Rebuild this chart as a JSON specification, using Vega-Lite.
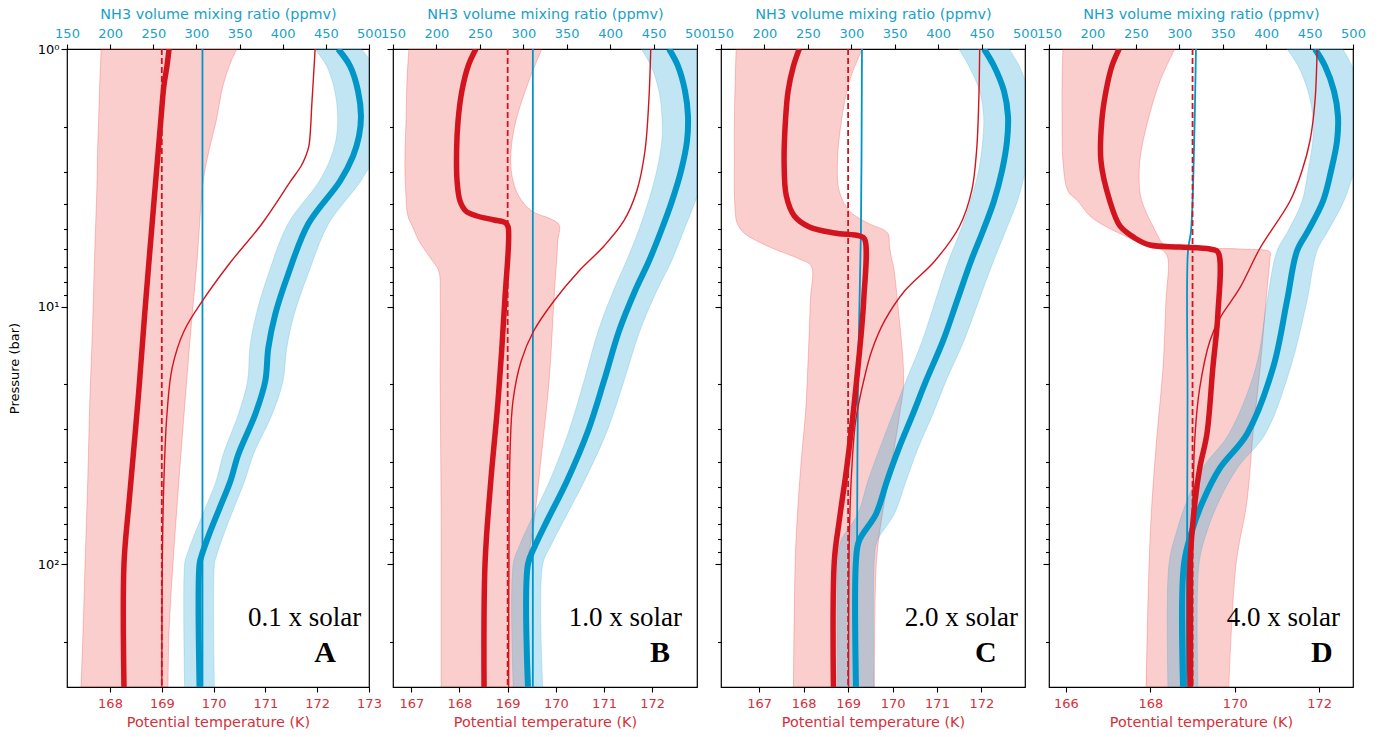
{
  "$schema": "https://vega.github.io/schema/vega-lite/v6.json",
  "background": "white",
  "padding": {"left": 7, "top": 5, "right": 5, "bottom": 5},
  "spacing": 24,
  "bounds": "flush",
  "config": {
    "view": {"stroke": "#000", "strokeWidth": 1.2},
    "axis": {"labelFont": "DejaVu Sans", "titleFont": "DejaVu Sans", "labelFontSize": 13, "titleFontSize": 14.4, "titleFontWeight": "normal", "tickColor": "#000", "tickWidth": 1.1, "domain": false, "grid": false, "labelFlush": false, "labelOverlap": false, "labelBound": false}
  },
  "datasets": {
    "tband": [
      {"panel": "A", "P": 1, "T": 167.83, "T2": 170.45}, {"panel": "A", "P": 1.113, "T": 167.82, "T2": 170.34}, {"panel": "A", "P": 1.392, "T": 167.80, "T2": 170.18}, {"panel": "A", "P": 1.904, "T": 167.78, "T2": 170.05}, {"panel": "A", "P": 2.489, "T": 167.76, "T2": 169.91}, {"panel": "A", "P": 3.254, "T": 167.75, "T2": 169.80}, {"panel": "A", "P": 6.654, "T": 167.70, "T2": 169.68}, {"panel": "A", "P": 12.44, "T": 167.66, "T2": 169.56}, {"panel": "A", "P": 23.26, "T": 167.61, "T2": 169.45}, {"panel": "A", "P": 47.53, "T": 167.57, "T2": 169.33}, {"panel": "A", "P": 97.18, "T": 167.52, "T2": 169.22}, {"panel": "A", "P": 181.7, "T": 167.48, "T2": 169.14}, {"panel": "A", "P": 300, "T": 167.44, "T2": 169.12},
      {"panel": "B", "P": 1, "T": 166.95, "T2": 169.71}, {"panel": "B", "P": 1.331, "T": 166.91, "T2": 169.44}, {"panel": "B", "P": 1.904, "T": 166.89, "T2": 169.17}, {"panel": "B", "P": 2.489, "T": 166.87, "T2": 169.07}, {"panel": "B", "P": 3.112, "T": 166.87, "T2": 169.09}, {"panel": "B", "P": 3.721, "T": 166.89, "T2": 169.23}, {"panel": "B", "P": 4.256, "T": 166.91, "T2": 169.50}, {"panel": "B", "P": 4.571, "T": 166.95, "T2": 169.90}, {"panel": "B", "P": 4.822, "T": 167.01, "T2": 170.07}, {"panel": "B", "P": 5.564, "T": 167.16, "T2": 170.04}, {"panel": "B", "P": 6.536, "T": 167.41, "T2": 170.02}, {"panel": "B", "P": 7.274, "T": 167.57, "T2": 170.00}, {"panel": "B", "P": 9.512, "T": 167.60, "T2": 169.96}, {"panel": "B", "P": 19.45, "T": 167.60, "T2": 169.86}, {"panel": "B", "P": 36.36, "T": 167.61, "T2": 169.71}, {"panel": "B", "P": 67.97, "T": 167.62, "T2": 169.55}, {"panel": "B", "P": 100, "T": 167.62, "T2": 169.42}, {"panel": "B", "P": 300, "T": 167.62, "T2": 169.38},
      {"panel": "C", "P": 1, "T": 166.48, "T2": 169.32}, {"panel": "C", "P": 1.331, "T": 166.46, "T2": 169.03}, {"panel": "C", "P": 1.904, "T": 166.44, "T2": 168.85}, {"panel": "C", "P": 2.722, "T": 166.44, "T2": 168.76}, {"panel": "C", "P": 3.558, "T": 166.44, "T2": 168.80}, {"panel": "C", "P": 4.256, "T": 166.46, "T2": 169.03}, {"panel": "C", "P": 4.737, "T": 166.50, "T2": 169.44}, {"panel": "C", "P": 5.18, "T": 166.66, "T2": 169.89}, {"panel": "C", "P": 5.819, "T": 167.18, "T2": 169.93}, {"panel": "C", "P": 6.536, "T": 167.90, "T2": 169.98}, {"panel": "C", "P": 6.957, "T": 168.17, "T2": 170.02}, {"panel": "C", "P": 9.512, "T": 168.15, "T2": 170.11}, {"panel": "C", "P": 19.45, "T": 168.08, "T2": 170.25}, {"panel": "C", "P": 26.12, "T": 168.04, "T2": 170.16}, {"panel": "C", "P": 38.71, "T": 167.95, "T2": 170.00}, {"panel": "C", "P": 63.85, "T": 167.86, "T2": 169.77}, {"panel": "C", "P": 97.18, "T": 167.81, "T2": 169.64}, {"panel": "C", "P": 300, "T": 167.77, "T2": 169.59},
      {"panel": "D", "P": 1, "T": 165.93, "T2": 168.58}, {"panel": "D", "P": 1.331, "T": 165.91, "T2": 168.23}, {"panel": "D", "P": 1.904, "T": 165.91, "T2": 167.94}, {"panel": "D", "P": 2.722, "T": 165.93, "T2": 167.75}, {"panel": "D", "P": 3.558, "T": 166.05, "T2": 167.75}, {"panel": "D", "P": 3.891, "T": 166.28, "T2": 167.80}, {"panel": "D", "P": 4.45, "T": 166.57, "T2": 167.94}, {"panel": "D", "P": 4.865, "T": 166.92, "T2": 168.06}, {"panel": "D", "P": 5.321, "T": 167.40, "T2": 168.18}, {"panel": "D", "P": 5.767, "T": 167.87, "T2": 168.34}, {"panel": "D", "P": 5.977, "T": 168.23, "T2": 170.12}, {"panel": "D", "P": 6.139, "T": 168.34, "T2": 170.83}, {"panel": "D", "P": 6.536, "T": 168.42, "T2": 170.83}, {"panel": "D", "P": 9.512, "T": 168.37, "T2": 170.74}, {"panel": "D", "P": 17.31, "T": 168.30, "T2": 170.60}, {"panel": "D", "P": 31.23, "T": 168.16, "T2": 170.43}, {"panel": "D", "P": 56.84, "T": 168.04, "T2": 170.29}, {"panel": "D", "P": 100, "T": 167.97, "T2": 170.03}, {"panel": "D", "P": 300, "T": 167.90, "T2": 169.86}
    ],
    "tline": [
      {"panel": "A", "s": "dash", "P": 1, "T": 169}, {"panel": "A", "s": "dash", "P": 300, "T": 169},
      {"panel": "A", "s": "thin", "P": 1, "T": 171.96}, {"panel": "A", "s": "thin", "P": 1.592, "T": 171.90}, {"panel": "A", "s": "thin", "P": 2.38, "T": 171.84}, {"panel": "A", "s": "thin", "P": 2.603, "T": 171.78}, {"panel": "A", "s": "thin", "P": 2.846, "T": 171.69}, {"panel": "A", "s": "thin", "P": 3.254, "T": 171.49}, {"panel": "A", "s": "thin", "P": 4.779, "T": 170.93}, {"panel": "A", "s": "thin", "P": 6.834, "T": 170.30}, {"panel": "A", "s": "thin", "P": 9.344, "T": 169.81}, {"panel": "A", "s": "thin", "P": 12.44, "T": 169.43}, {"panel": "A", "s": "thin", "P": 17.31, "T": 169.20}, {"panel": "A", "s": "thin", "P": 26.12, "T": 169.10}, {"panel": "A", "s": "thin", "P": 47.53, "T": 169.04}, {"panel": "A", "s": "thin", "P": 97.18, "T": 169.01}, {"panel": "A", "s": "thin", "P": 300, "T": 169.00},
      {"panel": "A", "s": "thick", "P": 1, "T": 169.14}, {"panel": "A", "s": "thick", "P": 1.164, "T": 169.10}, {"panel": "A", "s": "thick", "P": 1.392, "T": 169.04}, {"panel": "A", "s": "thick", "P": 1.904, "T": 168.98}, {"panel": "A", "s": "thick", "P": 3.891, "T": 168.85}, {"panel": "A", "s": "thick", "P": 9.512, "T": 168.69}, {"panel": "A", "s": "thick", "P": 23.26, "T": 168.54}, {"panel": "A", "s": "thick", "P": 56.84, "T": 168.37}, {"panel": "A", "s": "thick", "P": 100, "T": 168.27}, {"panel": "A", "s": "thick", "P": 300, "T": 168.27},
      {"panel": "B", "s": "dash", "P": 1, "T": 169}, {"panel": "B", "s": "dash", "P": 300, "T": 169},
      {"panel": "B", "s": "thin", "P": 1, "T": 171.97}, {"panel": "B", "s": "thin", "P": 1.592, "T": 171.93}, {"panel": "B", "s": "thin", "P": 2.489, "T": 171.85}, {"panel": "B", "s": "thin", "P": 3.558, "T": 171.68}, {"panel": "B", "s": "thin", "P": 4.653, "T": 171.41}, {"panel": "B", "s": "thin", "P": 5.819, "T": 171.00}, {"panel": "B", "s": "thin", "P": 7.274, "T": 170.48}, {"panel": "B", "s": "thin", "P": 9.512, "T": 169.96}, {"panel": "B", "s": "thin", "P": 12.44, "T": 169.54}, {"panel": "B", "s": "thin", "P": 16.26, "T": 169.28}, {"panel": "B", "s": "thin", "P": 23.26, "T": 169.11}, {"panel": "B", "s": "thin", "P": 36.36, "T": 169.05}, {"panel": "B", "s": "thin", "P": 67.97, "T": 169.03}, {"panel": "B", "s": "thin", "P": 300, "T": 169.02},
      {"panel": "B", "s": "thick", "P": 1, "T": 168.34}, {"panel": "B", "s": "thick", "P": 1.164, "T": 168.18}, {"panel": "B", "s": "thick", "P": 1.456, "T": 168.05}, {"panel": "B", "s": "thick", "P": 1.904, "T": 167.97}, {"panel": "B", "s": "thick", "P": 2.489, "T": 167.94}, {"panel": "B", "s": "thick", "P": 3.254, "T": 167.95}, {"panel": "B", "s": "thick", "P": 3.891, "T": 168.01}, {"panel": "B", "s": "thick", "P": 4.256, "T": 168.13}, {"panel": "B", "s": "thick", "P": 4.45, "T": 168.36}, {"panel": "B", "s": "thick", "P": 4.612, "T": 168.72}, {"panel": "B", "s": "thick", "P": 4.737, "T": 168.96}, {"panel": "B", "s": "thick", "P": 4.909, "T": 169.01}, {"panel": "B", "s": "thick", "P": 9.512, "T": 168.94}, {"panel": "B", "s": "thick", "P": 23.26, "T": 168.80}, {"panel": "B", "s": "thick", "P": 47.53, "T": 168.65}, {"panel": "B", "s": "thick", "P": 100, "T": 168.53}, {"panel": "B", "s": "thick", "P": 300, "T": 168.51},
      {"panel": "C", "s": "dash", "P": 1, "T": 169}, {"panel": "C", "s": "dash", "P": 300, "T": 169},
      {"panel": "C", "s": "thin", "P": 1, "T": 171.96}, {"panel": "C", "s": "thin", "P": 1.592, "T": 171.94}, {"panel": "C", "s": "thin", "P": 2.489, "T": 171.89}, {"panel": "C", "s": "thin", "P": 3.558, "T": 171.78}, {"panel": "C", "s": "thin", "P": 4.865, "T": 171.51}, {"panel": "C", "s": "thin", "P": 6.654, "T": 170.95}, {"panel": "C", "s": "thin", "P": 8.699, "T": 170.27}, {"panel": "C", "s": "thin", "P": 11.37, "T": 169.82}, {"panel": "C", "s": "thin", "P": 14.87, "T": 169.53}, {"panel": "C", "s": "thin", "P": 19.45, "T": 169.35}, {"panel": "C", "s": "thin", "P": 27.8, "T": 169.17}, {"panel": "C", "s": "thin", "P": 43.47, "T": 169.08}, {"panel": "C", "s": "thin", "P": 74.32, "T": 169.03}, {"panel": "C", "s": "thin", "P": 300, "T": 169.01},
      {"panel": "C", "s": "thick", "P": 1, "T": 167.90}, {"panel": "C", "s": "thick", "P": 1.164, "T": 167.77}, {"panel": "C", "s": "thick", "P": 1.456, "T": 167.65}, {"panel": "C", "s": "thick", "P": 1.904, "T": 167.59}, {"panel": "C", "s": "thick", "P": 2.722, "T": 167.56}, {"panel": "C", "s": "thick", "P": 3.721, "T": 167.61}, {"panel": "C", "s": "thick", "P": 4.45, "T": 167.79}, {"panel": "C", "s": "thick", "P": 4.909, "T": 168.13}, {"panel": "C", "s": "thick", "P": 5.18, "T": 168.69}, {"panel": "C", "s": "thick", "P": 5.321, "T": 169.26}, {"panel": "C", "s": "thick", "P": 5.466, "T": 169.37}, {"panel": "C", "s": "thick", "P": 9.512, "T": 169.35}, {"panel": "C", "s": "thick", "P": 19.45, "T": 169.19}, {"panel": "C", "s": "thick", "P": 40.83, "T": 168.98}, {"panel": "C", "s": "thick", "P": 67.97, "T": 168.80}, {"panel": "C", "s": "thick", "P": 97.18, "T": 168.69}, {"panel": "C", "s": "thick", "P": 300, "T": 168.67},
      {"panel": "D", "s": "dash", "P": 1, "T": 169}, {"panel": "D", "s": "dash", "P": 300, "T": 169},
      {"panel": "D", "s": "thin", "P": 1, "T": 171.95}, {"panel": "D", "s": "thin", "P": 1.592, "T": 171.90}, {"panel": "D", "s": "thin", "P": 2.276, "T": 171.78}, {"panel": "D", "s": "thin", "P": 2.976, "T": 171.59}, {"panel": "D", "s": "thin", "P": 3.891, "T": 171.31}, {"panel": "D", "s": "thin", "P": 5.924, "T": 170.60}, {"panel": "D", "s": "thin", "P": 8.469, "T": 170.12}, {"panel": "D", "s": "thin", "P": 11.07, "T": 169.65}, {"panel": "D", "s": "thin", "P": 13.6, "T": 169.41}, {"panel": "D", "s": "thin", "P": 20.7, "T": 169.17}, {"panel": "D", "s": "thin", "P": 31.23, "T": 169.06}, {"panel": "D", "s": "thin", "P": 56.84, "T": 169.01}, {"panel": "D", "s": "thin", "P": 300, "T": 169.00},
      {"panel": "D", "s": "thick", "P": 1, "T": 167.26}, {"panel": "D", "s": "thick", "P": 1.164, "T": 167.09}, {"panel": "D", "s": "thick", "P": 1.456, "T": 166.95}, {"panel": "D", "s": "thick", "P": 1.904, "T": 166.85}, {"panel": "D", "s": "thick", "P": 2.722, "T": 166.83}, {"panel": "D", "s": "thick", "P": 3.891, "T": 167.04}, {"panel": "D", "s": "thick", "P": 4.865, "T": 167.28}, {"panel": "D", "s": "thick", "P": 5.417, "T": 167.63}, {"panel": "D", "s": "thick", "P": 5.767, "T": 167.99}, {"panel": "D", "s": "thick", "P": 5.871, "T": 168.70}, {"panel": "D", "s": "thick", "P": 5.977, "T": 169.41}, {"panel": "D", "s": "thick", "P": 6.139, "T": 169.60}, {"panel": "D", "s": "thick", "P": 10.68, "T": 169.60}, {"panel": "D", "s": "thick", "P": 17.31, "T": 169.48}, {"panel": "D", "s": "thick", "P": 31.23, "T": 169.34}, {"panel": "D", "s": "thick", "P": 42.32, "T": 169.17}, {"panel": "D", "s": "thick", "P": 56.84, "T": 169.06}, {"panel": "D", "s": "thick", "P": 100, "T": 168.94}, {"panel": "D", "s": "thick", "P": 300, "T": 168.94}
    ],
    "nband": [
      {"panel": "A", "P": 1, "N": 437.2, "N2": 491.2}, {"panel": "A", "P": 1.164, "N": 451, "N2": 505}, {"panel": "A", "P": 1.456, "N": 460.3, "N2": 514.3}, {"panel": "A", "P": 1.82, "N": 463.7, "N2": 517.7}, {"panel": "A", "P": 2.177, "N": 462.4, "N2": 514.4}, {"panel": "A", "P": 2.603, "N": 456.5, "N2": 506.5}, {"panel": "A", "P": 3.254, "N": 442.5, "N2": 490.5}, {"panel": "A", "P": 4.779, "N": 406, "N2": 453}, {"panel": "A", "P": 7.472, "N": 383.4, "N2": 429.4}, {"panel": "A", "P": 10.68, "N": 369.4, "N2": 413.4}, {"panel": "A", "P": 14.48, "N": 361.9, "N2": 404.7}, {"panel": "A", "P": 19.45, "N": 359.3, "N2": 400.3}, {"panel": "A", "P": 26.12, "N": 348.7, "N2": 387.9}, {"panel": "A", "P": 37.35, "N": 331.2, "N2": 366.2}, {"panel": "A", "P": 47.53, "N": 322.9, "N2": 355.9}, {"panel": "A", "P": 59.44, "N": 311.4, "N2": 344.4}, {"panel": "A", "P": 77.71, "N": 297, "N2": 331}, {"panel": "A", "P": 92.93, "N": 288.6, "N2": 323.2}, {"panel": "A", "P": 100, "N": 286.3, "N2": 320.9}, {"panel": "A", "P": 300, "N": 286.3, "N2": 320.9},
      {"panel": "B", "P": 1, "N": 435.8, "N2": 499.8}, {"panel": "B", "P": 1.164, "N": 447.1, "N2": 509.1}, {"panel": "B", "P": 1.456, "N": 456.2, "N2": 516.2}, {"panel": "B", "P": 1.82, "N": 459.6, "N2": 519.6}, {"panel": "B", "P": 2.276, "N": 459.5, "N2": 517.5}, {"panel": "B", "P": 2.976, "N": 453.6, "N2": 509.6}, {"panel": "B", "P": 3.891, "N": 444.2, "N2": 498.2}, {"panel": "B", "P": 5.088, "N": 432.6, "N2": 484.6}, {"panel": "B", "P": 6.654, "N": 418.7, "N2": 470.7}, {"panel": "B", "P": 8.699, "N": 403.6, "N2": 453.6}, {"panel": "B", "P": 12.44, "N": 386.2, "N2": 434.2}, {"panel": "B", "P": 19.45, "N": 369.9, "N2": 415.9}, {"panel": "B", "P": 30.4, "N": 352.5, "N2": 396.5}, {"panel": "B", "P": 47.53, "N": 330.3, "N2": 370.3}, {"panel": "B", "P": 67.97, "N": 308.3, "N2": 346.3}, {"panel": "B", "P": 84.98, "N": 295.5, "N2": 331.5}, {"panel": "B", "P": 100, "N": 288.4, "N2": 322.4}, {"panel": "B", "P": 300, "N": 288.4, "N2": 322.4},
      {"panel": "C", "P": 1, "N": 423.8, "N2": 481.8}, {"panel": "C", "P": 1.164, "N": 435.3, "N2": 493.3}, {"panel": "C", "P": 1.456, "N": 447.8, "N2": 503.8}, {"panel": "C", "P": 1.82, "N": 452.4, "N2": 508.4}, {"panel": "C", "P": 2.276, "N": 451.3, "N2": 507.3}, {"panel": "C", "P": 2.976, "N": 446.5, "N2": 500.5}, {"panel": "C", "P": 3.891, "N": 437.3, "N2": 491.3}, {"panel": "C", "P": 5.088, "N": 425.6, "N2": 477.6}, {"panel": "C", "P": 6.654, "N": 411.8, "N2": 463.8}, {"panel": "C", "P": 9.512, "N": 396.7, "N2": 446.7}, {"panel": "C", "P": 13.6, "N": 381.6, "N2": 429.6}, {"panel": "C", "P": 19.45, "N": 363.0, "N2": 409.0}, {"panel": "C", "P": 26.12, "N": 348.0, "N2": 394.0}, {"panel": "C", "P": 35.4, "N": 332.9, "N2": 376.9}, {"panel": "C", "P": 47.53, "N": 319.1, "N2": 363.1}, {"panel": "C", "P": 63.85, "N": 307.5, "N2": 349.5}, {"panel": "C", "P": 81.27, "N": 287.9, "N2": 329.9}, {"panel": "C", "P": 97.18, "N": 284.4, "N2": 326.4}, {"panel": "C", "P": 300, "N": 284.4, "N2": 326.4},
      {"panel": "D", "P": 1, "N": 424.2, "N2": 488.2}, {"panel": "D", "P": 1.164, "N": 436.8, "N2": 498.8}, {"panel": "D", "P": 1.456, "N": 448.1, "N2": 508.1}, {"panel": "D", "P": 1.82, "N": 453.7, "N2": 511.7}, {"panel": "D", "P": 2.276, "N": 453.6, "N2": 509.6}, {"panel": "D", "P": 2.976, "N": 448.2, "N2": 501.2}, {"panel": "D", "P": 3.891, "N": 441.5, "N2": 489.5}, {"panel": "D", "P": 5.088, "N": 425.2, "N2": 471.2}, {"panel": "D", "P": 6.084, "N": 412.5, "N2": 458.5}, {"panel": "D", "P": 9.512, "N": 401.0, "N2": 447.0}, {"panel": "D", "P": 17.31, "N": 387.9, "N2": 427.9}, {"panel": "D", "P": 31.23, "N": 357.0, "N2": 399.0}, {"panel": "D", "P": 42.32, "N": 326.9, "N2": 366.9}, {"panel": "D", "P": 56.84, "N": 308.8, "N2": 345.8}, {"panel": "D", "P": 74.32, "N": 297.1, "N2": 332.1}, {"panel": "D", "P": 100, "N": 288.1, "N2": 322.7}, {"panel": "D", "P": 300, "N": 287.0, "N2": 321.6}
    ],
    "nline": [
      {"panel": "A", "s": "thin", "P": 1, "N": 307}, {"panel": "A", "s": "thin", "P": 300, "N": 307},
      {"panel": "A", "s": "thick", "P": 1, "N": 464.2}, {"panel": "A", "s": "thick", "P": 1.164, "N": 478.0}, {"panel": "A", "s": "thick", "P": 1.456, "N": 487.3}, {"panel": "A", "s": "thick", "P": 1.82, "N": 490.7}, {"panel": "A", "s": "thick", "P": 2.177, "N": 488.4}, {"panel": "A", "s": "thick", "P": 2.603, "N": 481.5}, {"panel": "A", "s": "thick", "P": 3.254, "N": 466.5}, {"panel": "A", "s": "thick", "P": 4.779, "N": 429.5}, {"panel": "A", "s": "thick", "P": 7.472, "N": 406.4}, {"panel": "A", "s": "thick", "P": 10.68, "N": 391.4}, {"panel": "A", "s": "thick", "P": 14.48, "N": 383.3}, {"panel": "A", "s": "thick", "P": 19.45, "N": 379.8}, {"panel": "A", "s": "thick", "P": 26.12, "N": 368.3}, {"panel": "A", "s": "thick", "P": 37.35, "N": 348.7}, {"panel": "A", "s": "thick", "P": 47.53, "N": 339.4}, {"panel": "A", "s": "thick", "P": 59.44, "N": 327.9}, {"panel": "A", "s": "thick", "P": 77.71, "N": 314.0}, {"panel": "A", "s": "thick", "P": 92.93, "N": 305.9}, {"panel": "A", "s": "thick", "P": 100, "N": 303.6}, {"panel": "A", "s": "thick", "P": 300, "N": 303.6},
      {"panel": "B", "s": "thin", "P": 1, "N": 311}, {"panel": "B", "s": "thin", "P": 300, "N": 311},
      {"panel": "B", "s": "thick", "P": 1, "N": 467.8}, {"panel": "B", "s": "thick", "P": 1.164, "N": 478.1}, {"panel": "B", "s": "thick", "P": 1.456, "N": 486.2}, {"panel": "B", "s": "thick", "P": 1.82, "N": 489.6}, {"panel": "B", "s": "thick", "P": 2.276, "N": 488.5}, {"panel": "B", "s": "thick", "P": 2.976, "N": 481.6}, {"panel": "B", "s": "thick", "P": 3.891, "N": 471.2}, {"panel": "B", "s": "thick", "P": 5.088, "N": 458.6}, {"panel": "B", "s": "thick", "P": 6.654, "N": 444.7}, {"panel": "B", "s": "thick", "P": 8.699, "N": 428.6}, {"panel": "B", "s": "thick", "P": 12.44, "N": 410.2}, {"panel": "B", "s": "thick", "P": 19.45, "N": 392.9}, {"panel": "B", "s": "thick", "P": 30.4, "N": 374.5}, {"panel": "B", "s": "thick", "P": 47.53, "N": 350.3}, {"panel": "B", "s": "thick", "P": 67.97, "N": 327.3}, {"panel": "B", "s": "thick", "P": 84.98, "N": 313.5}, {"panel": "B", "s": "thick", "P": 100, "N": 305.4}, {"panel": "B", "s": "thick", "P": 300, "N": 305.4},
      {"panel": "C", "s": "thin", "P": 1, "N": 312.3}, {"panel": "C", "s": "thin", "P": 5.088, "N": 311.1}, {"panel": "C", "s": "thin", "P": 19.45, "N": 307.7}, {"panel": "C", "s": "thin", "P": 97.18, "N": 306.6}, {"panel": "C", "s": "thin", "P": 300, "N": 305.4},
      {"panel": "C", "s": "thick", "P": 1, "N": 452.8}, {"panel": "C", "s": "thick", "P": 1.164, "N": 464.3}, {"panel": "C", "s": "thick", "P": 1.456, "N": 475.8}, {"panel": "C", "s": "thick", "P": 1.82, "N": 480.4}, {"panel": "C", "s": "thick", "P": 2.276, "N": 479.3}, {"panel": "C", "s": "thick", "P": 2.976, "N": 473.5}, {"panel": "C", "s": "thick", "P": 3.891, "N": 464.3}, {"panel": "C", "s": "thick", "P": 5.088, "N": 451.6}, {"panel": "C", "s": "thick", "P": 6.654, "N": 437.8}, {"panel": "C", "s": "thick", "P": 9.512, "N": 421.7}, {"panel": "C", "s": "thick", "P": 13.6, "N": 405.6}, {"panel": "C", "s": "thick", "P": 19.45, "N": 386.0}, {"panel": "C", "s": "thick", "P": 26.12, "N": 371.0}, {"panel": "C", "s": "thick", "P": 35.4, "N": 354.9}, {"panel": "C", "s": "thick", "P": 47.53, "N": 341.1}, {"panel": "C", "s": "thick", "P": 63.85, "N": 328.5}, {"panel": "C", "s": "thick", "P": 81.27, "N": 308.9}, {"panel": "C", "s": "thick", "P": 97.18, "N": 305.4}, {"panel": "C", "s": "thick", "P": 300, "N": 305.4},
      {"panel": "D", "s": "thin", "P": 1, "N": 319.2}, {"panel": "D", "s": "thin", "P": 2.489, "N": 316.9}, {"panel": "D", "s": "thin", "P": 5.088, "N": 313.5}, {"panel": "D", "s": "thin", "P": 6.084, "N": 310.0}, {"panel": "D", "s": "thin", "P": 23.26, "N": 309.5}, {"panel": "D", "s": "thin", "P": 97.18, "N": 308.9}, {"panel": "D", "s": "thin", "P": 300, "N": 307.7},
      {"panel": "D", "s": "thick", "P": 1, "N": 456.2}, {"panel": "D", "s": "thick", "P": 1.164, "N": 467.8}, {"panel": "D", "s": "thick", "P": 1.456, "N": 478.1}, {"panel": "D", "s": "thick", "P": 1.82, "N": 482.7}, {"panel": "D", "s": "thick", "P": 2.276, "N": 481.6}, {"panel": "D", "s": "thick", "P": 2.976, "N": 474.7}, {"panel": "D", "s": "thick", "P": 3.891, "N": 465.5}, {"panel": "D", "s": "thick", "P": 5.088, "N": 448.2}, {"panel": "D", "s": "thick", "P": 6.084, "N": 435.5}, {"panel": "D", "s": "thick", "P": 9.512, "N": 424.0}, {"panel": "D", "s": "thick", "P": 17.31, "N": 407.9}, {"panel": "D", "s": "thick", "P": 31.23, "N": 378.0}, {"panel": "D", "s": "thick", "P": 42.32, "N": 346.9}, {"panel": "D", "s": "thick", "P": 56.84, "N": 327.3}, {"panel": "D", "s": "thick", "P": 74.32, "N": 314.6}, {"panel": "D", "s": "thick", "P": 100, "N": 305.4}, {"panel": "D", "s": "thick", "P": 300, "N": 304.3}
    ],
    "labels": [
      {"panel": "A", "kind": "ratio", "T": 172.85, "P": 161.8, "label": "0.1 x solar"}, {"panel": "A", "kind": "letter", "T": 172.15, "P": 221, "label": "A"},
      {"panel": "B", "kind": "ratio", "T": 172.62, "P": 161.8, "label": "1.0 x solar"}, {"panel": "B", "kind": "letter", "T": 172.16, "P": 221, "label": "B"},
      {"panel": "C", "kind": "ratio", "T": 172.82, "P": 161.8, "label": "2.0 x solar"}, {"panel": "C", "kind": "letter", "T": 172.10, "P": 221, "label": "C"},
      {"panel": "D", "kind": "ratio", "T": 172.49, "P": 161.8, "label": "4.0 x solar"}, {"panel": "D", "kind": "letter", "T": 172.06, "P": 221, "label": "D"}
    ]
  },
  "hconcat": [
    {
      "width": 302, "height": 638,
      "encoding": {"y": {"field": "P", "type": "quantitative", "scale": {"type": "log", "domain": [1, 300], "reverse": true, "nice": false},
        "axis": {"values": [1, 2, 3, 4, 5, 6, 7, 8, 9, 10, 20, 30, 40, 50, 60, 70, 80, 90, 100, 200], "labelExpr": "datum.value === 1 ? '10⁰' : datum.value === 10 ? '10¹' : datum.value === 100 ? '10²' : ''", "tickSize": {"condition": {"test": "datum.value === 1 || datum.value === 10 || datum.value === 100", "value": 6}, "value": 3.5}, "title": "Pressure (bar)", "titleFontSize": 13, "titlePadding": 16, "labelPadding": 2, "labelColor": "#000", "titleColor": "#000"}}},
      "layer": [
        {"data": {"name": "tband"}, "transform": [{"filter": "datum.panel === 'A'"}],
          "mark": {"type": "area", "orient": "horizontal", "interpolate": "catmull-rom", "clip": true, "fill": "#ee2222", "fillOpacity": 0.22, "stroke": "#ee2222", "strokeOpacity": 0.25, "strokeWidth": 1},
          "encoding": {"x": {"field": "T", "type": "quantitative", "scale": {"domain": [167.17, 173], "nice": false, "zero": false}, "axis": {"orient": "bottom", "values": [168, 169, 170, 171, 172, 173], "format": "d", "title": "Potential temperature (K)", "labelColor": "#d62f3a", "titleColor": "#d62f3a", "tickSize": 5, "labelPadding": 5, "titlePadding": 5}}, "x2": {"field": "T2"}}},
        {"encoding": {"x": {"field": "N", "type": "quantitative", "scale": {"domain": [150, 500], "nice": false, "zero": false}, "axis": {"orient": "top", "values": [150, 200, 250, 300, 350, 400, 450, 500], "format": "d", "title": "NH3 volume mixing ratio (ppmv)", "labelColor": "#1b9fc6", "titleColor": "#1b9fc6", "tickSize": 5, "labelPadding": 4, "titlePadding": 6}}},
          "layer": [
            {"data": {"name": "nband"}, "transform": [{"filter": "datum.panel === 'A'"}], "mark": {"type": "area", "orient": "horizontal", "interpolate": "catmull-rom", "clip": true, "fill": "#1a9fd0", "fillOpacity": 0.27, "stroke": "#1a9fd0", "strokeOpacity": 0.2, "strokeWidth": 1}, "encoding": {"x2": {"field": "N2"}}},
            {"data": {"name": "nline"}, "transform": [{"filter": "datum.panel === 'A' && datum.s === 'thin'"}], "mark": {"type": "line", "orient": "horizontal", "interpolate": "catmull-rom", "clip": true, "color": "#0096c8", "strokeWidth": 1.8}},
            {"data": {"name": "nline"}, "transform": [{"filter": "datum.panel === 'A' && datum.s === 'thick'"}], "mark": {"type": "line", "orient": "horizontal", "interpolate": "catmull-rom", "clip": true, "color": "#0096c8", "strokeWidth": 6}}
          ]},
        {"encoding": {"x": {"field": "T", "type": "quantitative", "scale": {"domain": [167.17, 173], "nice": false, "zero": false}, "axis": null}},
          "layer": [
            {"data": {"name": "tline"}, "transform": [{"filter": "datum.panel === 'A' && datum.s === 'dash'"}], "mark": {"type": "line", "orient": "horizontal", "clip": true, "color": "#d2141e", "strokeWidth": 1.8, "strokeDash": [6, 3]}},
            {"data": {"name": "tline"}, "transform": [{"filter": "datum.panel === 'A' && datum.s === 'thin'"}], "mark": {"type": "line", "orient": "horizontal", "interpolate": "catmull-rom", "clip": true, "color": "#d2141e", "strokeWidth": 1.4}},
            {"data": {"name": "tline"}, "transform": [{"filter": "datum.panel === 'A' && datum.s === 'thick'"}], "mark": {"type": "line", "orient": "horizontal", "interpolate": "catmull-rom", "clip": true, "color": "#d2141e", "strokeWidth": 5.5}},
            {"data": {"name": "labels"}, "transform": [{"filter": "datum.panel === 'A' && datum.kind === 'ratio'"}], "mark": {"type": "text", "font": "Liberation Serif", "fontSize": 27, "align": "right", "baseline": "middle", "color": "#000"}, "encoding": {"text": {"field": "label"}}},
            {"data": {"name": "labels"}, "transform": [{"filter": "datum.panel === 'A' && datum.kind === 'letter'"}], "mark": {"type": "text", "font": "Liberation Serif", "fontSize": 30, "fontWeight": "bold", "align": "center", "baseline": "middle", "color": "#000"}, "encoding": {"text": {"field": "label"}}}
          ]}
      ],
      "resolve": {"scale": {"x": "independent"}}
    },
    {
      "width": 304, "height": 638,
      "encoding": {"y": {"field": "P", "type": "quantitative", "scale": {"type": "log", "domain": [1, 300], "reverse": true, "nice": false},
        "axis": {"values": [1, 2, 3, 4, 5, 6, 7, 8, 9, 10, 20, 30, 40, 50, 60, 70, 80, 90, 100, 200], "labels": false, "title": null, "tickSize": {"condition": {"test": "datum.value === 1 || datum.value === 10 || datum.value === 100", "value": 6}, "value": 3.5}}}},
      "layer": [
        {"data": {"name": "tband"}, "transform": [{"filter": "datum.panel === 'B'"}],
          "mark": {"type": "area", "orient": "horizontal", "interpolate": "catmull-rom", "clip": true, "fill": "#ee2222", "fillOpacity": 0.22, "stroke": "#ee2222", "strokeOpacity": 0.25, "strokeWidth": 1},
          "encoding": {"x": {"field": "T", "type": "quantitative", "scale": {"domain": [166.62, 172.93], "nice": false, "zero": false}, "axis": {"orient": "bottom", "values": [167, 168, 169, 170, 171, 172], "format": "d", "title": "Potential temperature (K)", "labelColor": "#d62f3a", "titleColor": "#d62f3a", "tickSize": 5, "labelPadding": 5, "titlePadding": 5}}, "x2": {"field": "T2"}}},
        {"encoding": {"x": {"field": "N", "type": "quantitative", "scale": {"domain": [150, 500], "nice": false, "zero": false}, "axis": {"orient": "top", "values": [150, 200, 250, 300, 350, 400, 450, 500], "format": "d", "title": "NH3 volume mixing ratio (ppmv)", "labelColor": "#1b9fc6", "titleColor": "#1b9fc6", "tickSize": 5, "labelPadding": 4, "titlePadding": 6}}},
          "layer": [
            {"data": {"name": "nband"}, "transform": [{"filter": "datum.panel === 'B'"}], "mark": {"type": "area", "orient": "horizontal", "interpolate": "catmull-rom", "clip": true, "fill": "#1a9fd0", "fillOpacity": 0.27, "stroke": "#1a9fd0", "strokeOpacity": 0.2, "strokeWidth": 1}, "encoding": {"x2": {"field": "N2"}}},
            {"data": {"name": "nline"}, "transform": [{"filter": "datum.panel === 'B' && datum.s === 'thin'"}], "mark": {"type": "line", "orient": "horizontal", "interpolate": "catmull-rom", "clip": true, "color": "#0096c8", "strokeWidth": 1.8}},
            {"data": {"name": "nline"}, "transform": [{"filter": "datum.panel === 'B' && datum.s === 'thick'"}], "mark": {"type": "line", "orient": "horizontal", "interpolate": "catmull-rom", "clip": true, "color": "#0096c8", "strokeWidth": 6}}
          ]},
        {"encoding": {"x": {"field": "T", "type": "quantitative", "scale": {"domain": [166.62, 172.93], "nice": false, "zero": false}, "axis": null}},
          "layer": [
            {"data": {"name": "tline"}, "transform": [{"filter": "datum.panel === 'B' && datum.s === 'dash'"}], "mark": {"type": "line", "orient": "horizontal", "clip": true, "color": "#d2141e", "strokeWidth": 1.8, "strokeDash": [6, 3]}},
            {"data": {"name": "tline"}, "transform": [{"filter": "datum.panel === 'B' && datum.s === 'thin'"}], "mark": {"type": "line", "orient": "horizontal", "interpolate": "catmull-rom", "clip": true, "color": "#d2141e", "strokeWidth": 1.4}},
            {"data": {"name": "tline"}, "transform": [{"filter": "datum.panel === 'B' && datum.s === 'thick'"}], "mark": {"type": "line", "orient": "horizontal", "interpolate": "catmull-rom", "clip": true, "color": "#d2141e", "strokeWidth": 5.5}},
            {"data": {"name": "labels"}, "transform": [{"filter": "datum.panel === 'B' && datum.kind === 'ratio'"}], "mark": {"type": "text", "font": "Liberation Serif", "fontSize": 27, "align": "right", "baseline": "middle", "color": "#000"}, "encoding": {"text": {"field": "label"}}},
            {"data": {"name": "labels"}, "transform": [{"filter": "datum.panel === 'B' && datum.kind === 'letter'"}], "mark": {"type": "text", "font": "Liberation Serif", "fontSize": 30, "fontWeight": "bold", "align": "center", "baseline": "middle", "color": "#000"}, "encoding": {"text": {"field": "label"}}}
          ]}
      ],
      "resolve": {"scale": {"x": "independent"}}
    },
    {
      "width": 304, "height": 638,
      "encoding": {"y": {"field": "P", "type": "quantitative", "scale": {"type": "log", "domain": [1, 300], "reverse": true, "nice": false},
        "axis": {"values": [1, 2, 3, 4, 5, 6, 7, 8, 9, 10, 20, 30, 40, 50, 60, 70, 80, 90, 100, 200], "labels": false, "title": null, "tickSize": {"condition": {"test": "datum.value === 1 || datum.value === 10 || datum.value === 100", "value": 6}, "value": 3.5}}}},
      "layer": [
        {"data": {"name": "tband"}, "transform": [{"filter": "datum.panel === 'C'"}],
          "mark": {"type": "area", "orient": "horizontal", "interpolate": "catmull-rom", "clip": true, "fill": "#ee2222", "fillOpacity": 0.22, "stroke": "#ee2222", "strokeOpacity": 0.25, "strokeWidth": 1},
          "encoding": {"x": {"field": "T", "type": "quantitative", "scale": {"domain": [166.14, 172.98], "nice": false, "zero": false}, "axis": {"orient": "bottom", "values": [167, 168, 169, 170, 171, 172], "format": "d", "title": "Potential temperature (K)", "labelColor": "#d62f3a", "titleColor": "#d62f3a", "tickSize": 5, "labelPadding": 5, "titlePadding": 5}}, "x2": {"field": "T2"}}},
        {"encoding": {"x": {"field": "N", "type": "quantitative", "scale": {"domain": [150, 500], "nice": false, "zero": false}, "axis": {"orient": "top", "values": [150, 200, 250, 300, 350, 400, 450, 500], "format": "d", "title": "NH3 volume mixing ratio (ppmv)", "labelColor": "#1b9fc6", "titleColor": "#1b9fc6", "tickSize": 5, "labelPadding": 4, "titlePadding": 6}}},
          "layer": [
            {"data": {"name": "nband"}, "transform": [{"filter": "datum.panel === 'C'"}], "mark": {"type": "area", "orient": "horizontal", "interpolate": "catmull-rom", "clip": true, "fill": "#1a9fd0", "fillOpacity": 0.27, "stroke": "#1a9fd0", "strokeOpacity": 0.2, "strokeWidth": 1}, "encoding": {"x2": {"field": "N2"}}},
            {"data": {"name": "nline"}, "transform": [{"filter": "datum.panel === 'C' && datum.s === 'thin'"}], "mark": {"type": "line", "orient": "horizontal", "interpolate": "catmull-rom", "clip": true, "color": "#0096c8", "strokeWidth": 1.8}},
            {"data": {"name": "nline"}, "transform": [{"filter": "datum.panel === 'C' && datum.s === 'thick'"}], "mark": {"type": "line", "orient": "horizontal", "interpolate": "catmull-rom", "clip": true, "color": "#0096c8", "strokeWidth": 6}}
          ]},
        {"encoding": {"x": {"field": "T", "type": "quantitative", "scale": {"domain": [166.14, 172.98], "nice": false, "zero": false}, "axis": null}},
          "layer": [
            {"data": {"name": "tline"}, "transform": [{"filter": "datum.panel === 'C' && datum.s === 'dash'"}], "mark": {"type": "line", "orient": "horizontal", "clip": true, "color": "#d2141e", "strokeWidth": 1.8, "strokeDash": [6, 3]}},
            {"data": {"name": "tline"}, "transform": [{"filter": "datum.panel === 'C' && datum.s === 'thin'"}], "mark": {"type": "line", "orient": "horizontal", "interpolate": "catmull-rom", "clip": true, "color": "#d2141e", "strokeWidth": 1.4}},
            {"data": {"name": "tline"}, "transform": [{"filter": "datum.panel === 'C' && datum.s === 'thick'"}], "mark": {"type": "line", "orient": "horizontal", "interpolate": "catmull-rom", "clip": true, "color": "#d2141e", "strokeWidth": 5.5}},
            {"data": {"name": "labels"}, "transform": [{"filter": "datum.panel === 'C' && datum.kind === 'ratio'"}], "mark": {"type": "text", "font": "Liberation Serif", "fontSize": 27, "align": "right", "baseline": "middle", "color": "#000"}, "encoding": {"text": {"field": "label"}}},
            {"data": {"name": "labels"}, "transform": [{"filter": "datum.panel === 'C' && datum.kind === 'letter'"}], "mark": {"type": "text", "font": "Liberation Serif", "fontSize": 30, "fontWeight": "bold", "align": "center", "baseline": "middle", "color": "#000"}, "encoding": {"text": {"field": "label"}}}
          ]}
      ],
      "resolve": {"scale": {"x": "independent"}}
    },
    {
      "width": 304, "height": 638,
      "encoding": {"y": {"field": "P", "type": "quantitative", "scale": {"type": "log", "domain": [1, 300], "reverse": true, "nice": false},
        "axis": {"values": [1, 2, 3, 4, 5, 6, 7, 8, 9, 10, 20, 30, 40, 50, 60, 70, 80, 90, 100, 200], "labels": false, "title": null, "tickSize": {"condition": {"test": "datum.value === 1 || datum.value === 10 || datum.value === 100", "value": 6}, "value": 3.5}}}},
      "layer": [
        {"data": {"name": "tband"}, "transform": [{"filter": "datum.panel === 'D'"}],
          "mark": {"type": "area", "orient": "horizontal", "interpolate": "catmull-rom", "clip": true, "fill": "#ee2222", "fillOpacity": 0.22, "stroke": "#ee2222", "strokeOpacity": 0.25, "strokeWidth": 1},
          "encoding": {"x": {"field": "T", "type": "quantitative", "scale": {"domain": [165.6, 172.8], "nice": false, "zero": false}, "axis": {"orient": "bottom", "values": [166, 168, 170, 172], "format": "d", "title": "Potential temperature (K)", "labelColor": "#d62f3a", "titleColor": "#d62f3a", "tickSize": 5, "labelPadding": 5, "titlePadding": 5}}, "x2": {"field": "T2"}}},
        {"encoding": {"x": {"field": "N", "type": "quantitative", "scale": {"domain": [150, 500], "nice": false, "zero": false}, "axis": {"orient": "top", "values": [150, 200, 250, 300, 350, 400, 450, 500], "format": "d", "title": "NH3 volume mixing ratio (ppmv)", "labelColor": "#1b9fc6", "titleColor": "#1b9fc6", "tickSize": 5, "labelPadding": 4, "titlePadding": 6}}},
          "layer": [
            {"data": {"name": "nband"}, "transform": [{"filter": "datum.panel === 'D'"}], "mark": {"type": "area", "orient": "horizontal", "interpolate": "catmull-rom", "clip": true, "fill": "#1a9fd0", "fillOpacity": 0.27, "stroke": "#1a9fd0", "strokeOpacity": 0.2, "strokeWidth": 1}, "encoding": {"x2": {"field": "N2"}}},
            {"data": {"name": "nline"}, "transform": [{"filter": "datum.panel === 'D' && datum.s === 'thin'"}], "mark": {"type": "line", "orient": "horizontal", "interpolate": "catmull-rom", "clip": true, "color": "#0096c8", "strokeWidth": 1.8}},
            {"data": {"name": "nline"}, "transform": [{"filter": "datum.panel === 'D' && datum.s === 'thick'"}], "mark": {"type": "line", "orient": "horizontal", "interpolate": "catmull-rom", "clip": true, "color": "#0096c8", "strokeWidth": 6}}
          ]},
        {"encoding": {"x": {"field": "T", "type": "quantitative", "scale": {"domain": [165.6, 172.8], "nice": false, "zero": false}, "axis": null}},
          "layer": [
            {"data": {"name": "tline"}, "transform": [{"filter": "datum.panel === 'D' && datum.s === 'dash'"}], "mark": {"type": "line", "orient": "horizontal", "clip": true, "color": "#d2141e", "strokeWidth": 1.8, "strokeDash": [6, 3]}},
            {"data": {"name": "tline"}, "transform": [{"filter": "datum.panel === 'D' && datum.s === 'thin'"}], "mark": {"type": "line", "orient": "horizontal", "interpolate": "catmull-rom", "clip": true, "color": "#d2141e", "strokeWidth": 1.4}},
            {"data": {"name": "tline"}, "transform": [{"filter": "datum.panel === 'D' && datum.s === 'thick'"}], "mark": {"type": "line", "orient": "horizontal", "interpolate": "catmull-rom", "clip": true, "color": "#d2141e", "strokeWidth": 5.5}},
            {"data": {"name": "labels"}, "transform": [{"filter": "datum.panel === 'D' && datum.kind === 'ratio'"}], "mark": {"type": "text", "font": "Liberation Serif", "fontSize": 27, "align": "right", "baseline": "middle", "color": "#000"}, "encoding": {"text": {"field": "label"}}},
            {"data": {"name": "labels"}, "transform": [{"filter": "datum.panel === 'D' && datum.kind === 'letter'"}], "mark": {"type": "text", "font": "Liberation Serif", "fontSize": 30, "fontWeight": "bold", "align": "center", "baseline": "middle", "color": "#000"}, "encoding": {"text": {"field": "label"}}}
          ]}
      ],
      "resolve": {"scale": {"x": "independent"}}
    }
  ]
}
